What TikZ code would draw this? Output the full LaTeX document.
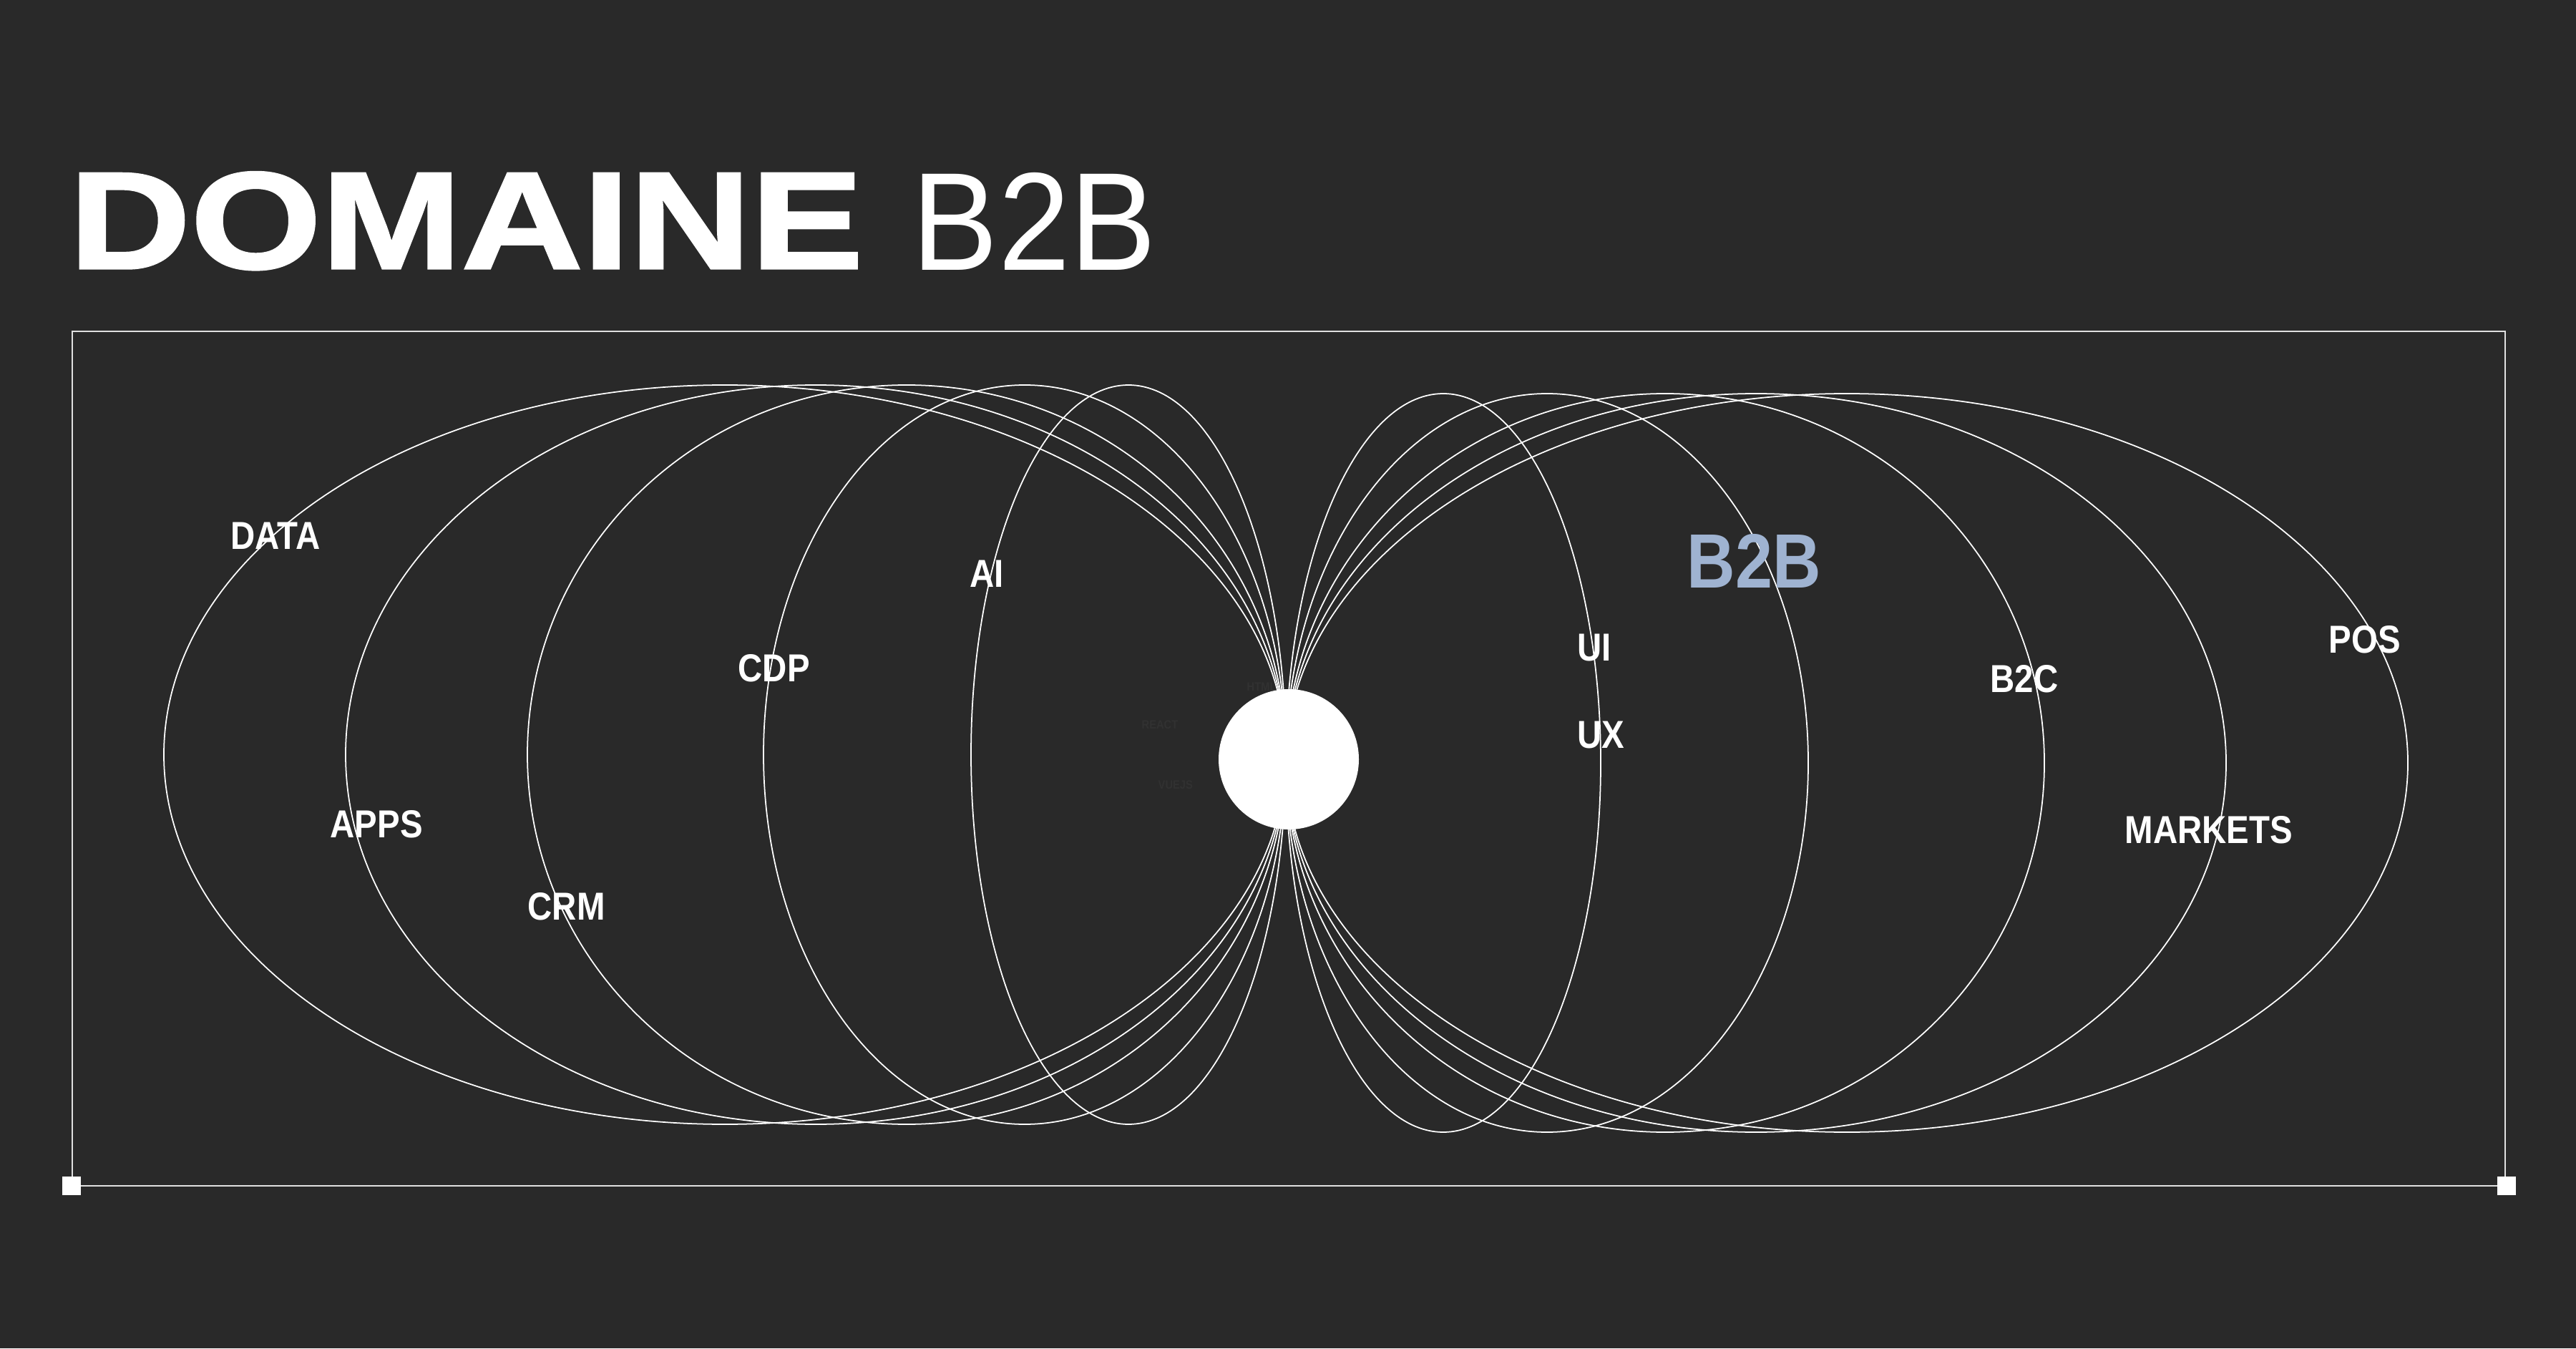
\documentclass[tikz,border=0pt]{standalone}
\usepackage{fontspec}
\setmainfont{Liberation Sans}
\newfontfamily\widefont[FakeStretch=1.22,FakeBold=1.8]{Liberation Sans}
\newfontfamily\plainfont[FakeStretch=0.925]{Liberation Sans}
\newfontfamily\labelfont[FakeStretch=0.87]{Liberation Sans}
\definecolor{bgcol}{HTML}{292929}
\definecolor{faintcol}{HTML}{313131}
\definecolor{accentblue}{HTML}{9FB3D1}
\tikzset{
	orbit/.style={draw=white, line width=0.5pt},
	tag/.style={anchor=base west, inner sep=0pt, text=white, font=\labelfont\bfseries\fontsize{15.5}{18}\selectfont},
	ghost/.style={anchor=base west, inner sep=0pt, text=faintcol, font=\labelfont\bfseries\fontsize{4.8}{6}\selectfont}
}

\begin{document}
\begin{tikzpicture}
			%%%%% START %%%%%
			
			\fill[bgcol] (0, 0) rectangle (36, 18.84);
			\useasboundingbox (0, 0) rectangle (36, 18.84);
			
			\node[anchor=base west, inner sep=0pt, text=white, font=\widefont\bfseries\fontsize{54.8}{60}\selectfont] (title) at (0.96, 15.09) {DOMAINE};
			\node[anchor=base west, inner sep=0pt, text=white, font=\plainfont\fontsize{55.5}{60}\selectfont] (titleb) at (12.74, 15.06) {B2B};
			
			\draw[line width=0.57pt, color=white!88!black] (1.01, 2.27) rectangle (35.01, 14.21);
			\fill[white] (0.87, 2.14) rectangle (1.13, 2.40);
			\fill[white] (34.90, 2.14) rectangle (35.16, 2.40);
			
			\foreach \a in {2.20, 3.65, 5.30, 6.57, 7.84} {
				\draw[orbit] (17.97-\a, 8.295) ellipse [x radius=\a, y radius=5.165];
				\draw[orbit] (17.97+\a, 8.18) ellipse [x radius=\a, y radius=5.16];
			}
			
			\node[ghost] (react) at (15.95, 8.66) {REACT};
			\node[ghost] (vue) at (16.18, 7.82) {VUEJS};
			\node[ghost] (html) at (17.42, 9.19) {HTML};
			
			\node[circle, fill=white, inner sep=0pt, minimum size=1.96cm] (hub) at (18.01, 8.23) {};
			
			\node[tag] (data) at (3.22, 11.16) {DATA};
			\node[tag] (ai) at (13.55, 10.63) {AI};
			\node[tag] (cdp) at (10.31, 9.32) {CDP};
			\node[tag] (apps) at (4.61, 7.14) {APPS};
			\node[tag] (crm) at (7.37, 5.99) {CRM};
			
			\node[tag] (ui) at (22.04, 9.60) {UI};
			\node[tag] (ux) at (22.04, 8.39) {UX};
			\node[tag] (btoc) at (27.81, 9.16) {B2C};
			\node[tag] (pos) at (32.54, 9.71) {POS};
			\node[tag] (markets) at (29.69, 7.06) {MARKETS};
			
			\node[tag, text=accentblue, font=\labelfont\bfseries\fontsize{30.6}{34}\selectfont] (btob) at (23.57, 10.62) {B2B};
			
			%%%%% END %%%%%
\end{tikzpicture}
\end{document}
